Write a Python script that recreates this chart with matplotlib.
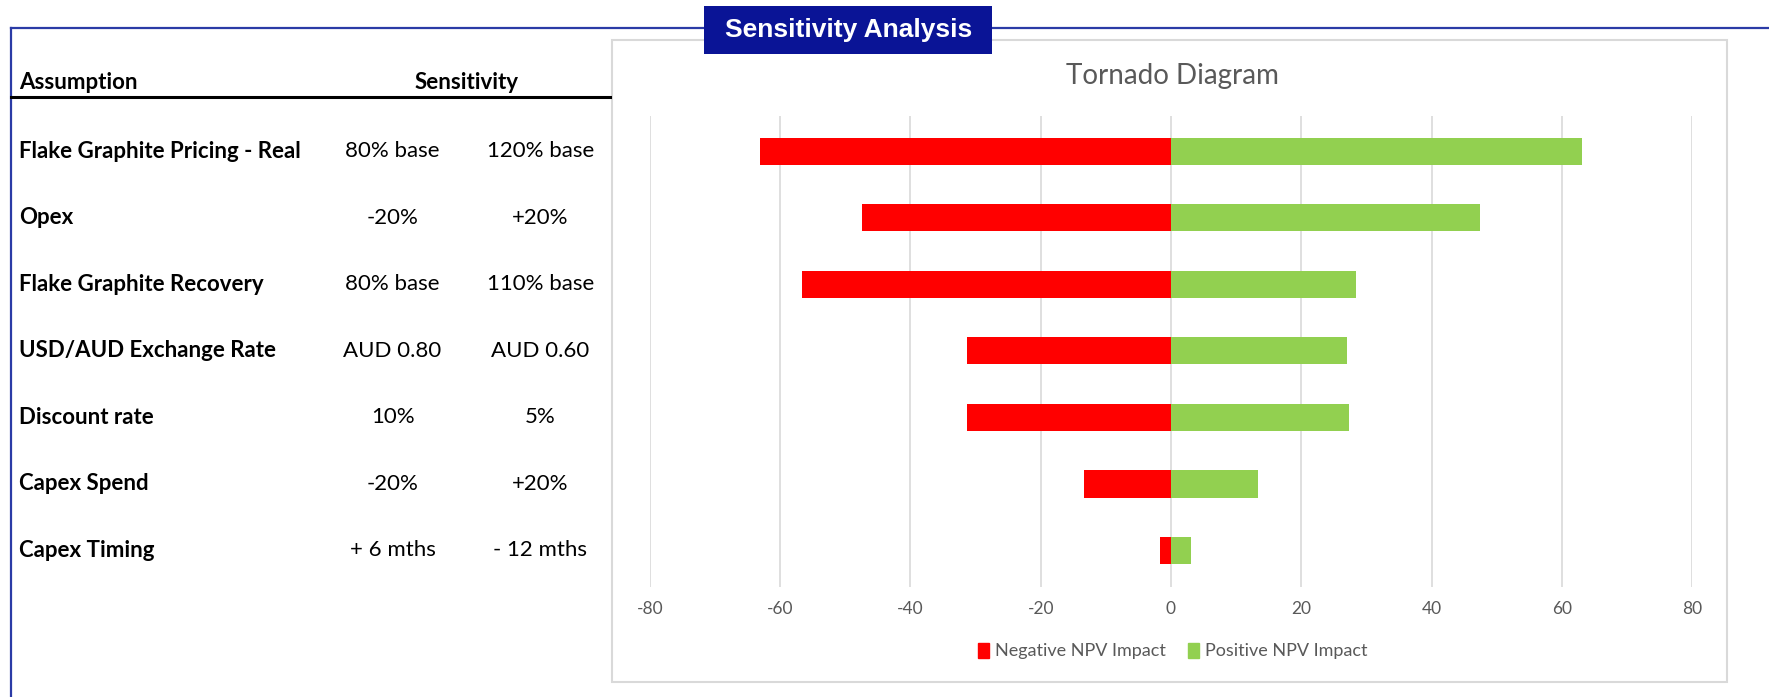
import matplotlib
matplotlib.use("Agg")
import matplotlib.pyplot as plt
from matplotlib.patches import Rectangle, Patch
from matplotlib.lines import Line2D
import matplotlib.transforms as mtransforms

# Assumptions tested, the two sensitivity cases, and their NPV impact
assumptions = [
    "Flake Graphite Pricing - Real",
    "Opex",
    "Flake Graphite Recovery",
    "USD/AUD Exchange Rate",
    "Discount rate",
    "Capex Spend",
    "Capex Timing",
]
low_case = ["80% base", "-20%", "80% base", "AUD 0.80", "10%", "-20%", "+ 6 mths"]
high_case = ["120% base", "+20%", "110% base", "AUD 0.60", "5%", "+20%", "- 12 mths"]
negative_impact = [-63.1, -47.4, -56.7, -31.3, -31.3, -13.4, -1.7]
positive_impact = [63.1, 47.5, 28.4, 27.0, 27.3, 13.4, 3.1]
x_ticks = [-80, -60, -40, -20, 0, 20, 40, 60, 80]

RED = "#FF0000"
GREEN = "#92D050"
GREY_TEXT = "#595959"
GRID = "#D9D9D9"
FRAME_BLUE = "#2B3BA6"
BANNER = "#0A1496"
BODY_FONT = ["Lato", "DejaVu Sans"]
TABLE_SIZE = 16

fig = plt.figure(figsize=(17.69, 6.97), dpi=100)
fig.patch.set_facecolor("white")

# Outer blue frame (top and left edges)
fig.add_artist(Line2D([0.0064, 1.0], [0.960, 0.960], transform=fig.transFigure,
                      color=FRAME_BLUE, lw=1.6, zorder=1))
fig.add_artist(Line2D([0.0064, 0.0064], [0.0, 0.960], transform=fig.transFigure,
                      color=FRAME_BLUE, lw=1.6, zorder=1))

# Chart panel border
fig.add_artist(Rectangle((0.346, 0.0215), 0.630, 0.9215, transform=fig.transFigure,
                         facecolor="white", edgecolor=GRID, lw=1.5, zorder=2))

# Banner title
fig.add_artist(Rectangle((0.398, 0.9225), 0.163, 0.0695, transform=fig.transFigure,
                         facecolor=BANNER, edgecolor="none", zorder=5))
fig.text(0.4795, 0.9575, "Sensitivity Analysis", ha="center", va="center",
         color="white", fontsize=19, fontweight="bold",
         family=["Liberation Sans", "DejaVu Sans"], zorder=6)

# Tornado chart
ax = fig.add_axes([0.3674, 0.1578, 0.5891, 0.6758], zorder=3)
ax.set_facecolor("none")
y = list(range(len(assumptions)))
ax.barh(y, negative_impact, height=0.41, color=RED, zorder=3)
ax.barh(y, positive_impact, height=0.41, color=GREEN, zorder=3)
ax.set_xlim(-80, 80)
ax.set_ylim(6.55, -0.53)
ax.set_xticks(x_ticks)
ax.set_xticklabels([str(t) for t in x_ticks], family=BODY_FONT,
                   fontsize=12.5, color=GREY_TEXT)
ax.set_yticks([])
ax.tick_params(axis="x", length=0, pad=10)
ax.grid(axis="x", color=GRID, lw=1.2, zorder=0)
for side in ax.spines.values():
    side.set_visible(False)

fig.text(0.663, 0.8915, "Tornado Diagram", ha="center", va="center",
         color=GREY_TEXT, fontsize=20, family=BODY_FONT)

fig.legend(handles=[Patch(color=RED, label="Negative NPV Impact"),
                    Patch(color=GREEN, label="Positive NPV Impact")],
           loc="center", bbox_to_anchor=(0.663, 0.066), ncol=2, frameon=False,
           handlelength=0.6, handleheight=0.9, handletextpad=0.35,
           columnspacing=1.2, prop={"family": BODY_FONT, "size": 13},
           labelcolor=GREY_TEXT)

# Assumption table on the left, rows aligned with the bars
fig.text(0.0108, 0.882, "Assumption", ha="left", va="center",
         fontsize=TABLE_SIZE, fontweight="bold", family=BODY_FONT, color="black")
fig.text(0.264, 0.882, "Sensitivity", ha="center", va="center",
         fontsize=TABLE_SIZE, fontweight="bold", family=BODY_FONT, color="black")
fig.add_artist(Line2D([0.0064, 0.345], [0.861, 0.861], transform=fig.transFigure,
                      color="black", lw=2.2, zorder=4))

row_tf = mtransforms.blended_transform_factory(fig.transFigure, ax.transData)
for i, name in enumerate(assumptions):
    fig.text(0.0108, i, name, transform=row_tf, ha="left", va="center",
             fontsize=TABLE_SIZE, fontweight="bold", family=BODY_FONT, color="black")
    fig.text(0.2219, i, low_case[i], transform=row_tf, ha="center", va="center",
             fontsize=TABLE_SIZE, family=BODY_FONT, color="black")
    fig.text(0.3054, i, high_case[i], transform=row_tf, ha="center", va="center",
             fontsize=TABLE_SIZE, family=BODY_FONT, color="black")

fig.savefig("out.png", dpi=100, facecolor="white")
